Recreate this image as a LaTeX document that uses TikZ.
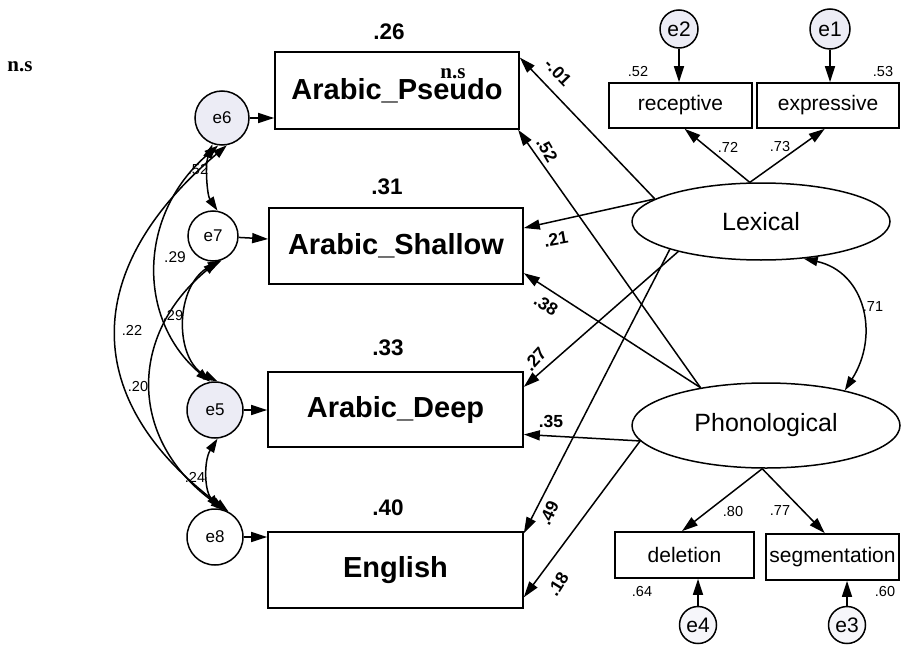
\documentclass[tikz,border=0pt]{standalone}
\usepackage{fontspec}
\setmainfont{Liberation Sans}
\newfontfamily\serifb{Liberation Serif}
\usetikzlibrary{arrows.meta,shapes.geometric}
\definecolor{errfill}{RGB}{236,236,245}
\definecolor{errfillb}{RGB}{246,246,250}
\begin{document}
\begin{tikzpicture}[x=1pt,y=-1pt,line width=1.5pt,
  >={Triangle[length=16pt,width=10pt]},
  obs/.style={draw,rectangle,line width=1.7pt,inner sep=0pt,font=\fontsize{29}{31}\selectfont\bfseries},
  ind/.style={draw,rectangle,line width=1.7pt,inner sep=0pt,font=\fontsize{21}{23}\selectfont},
  lat/.style={draw,ellipse,inner sep=0pt,font=\fontsize{25}{27}\selectfont},
  errs/.style={draw,circle,inner sep=0pt,font=\fontsize{17}{19}\selectfont},
  errt/.style={draw,circle,inner sep=0pt,font=\fontsize{21}{23}\selectfont},
  sm/.style={font=\fontsize{14.5}{16}\selectfont},
  cv/.style={font=\fontsize{15.5}{17}\selectfont},
  pl/.style={font=\fontsize{17.5}{19}\selectfont\bfseries},
  rsq/.style={font=\fontsize{22.5}{24}\selectfont\bfseries},
  nsl/.style={font=\serifb\fontsize{21}{23}\selectfont\bfseries},
  cov/.style={<->,>={Triangle[length=14pt,width=9pt]}}]
\useasboundingbox (0,0) rectangle (901,647);

% observed outcome boxes
\node[obs,minimum width=244pt,minimum height=77pt] (pseudo) at (397,90.5) {Arabic\_Pseudo};
\node[obs,minimum width=254pt,minimum height=76pt] (shallow) at (396,246) {Arabic\_Shallow};
\node[obs,minimum width=255pt,minimum height=75pt] (deep) at (395.5,409.5) {Arabic\_Deep};
\node[obs,minimum width=255pt,minimum height=76pt] (english) at (395.5,570) {English};

% latent variables
\node[lat,minimum width=258pt,minimum height=77pt] (lex) at (761,221.5) {Lexical};
\node[lat,minimum width=268pt,minimum height=85pt] (phon) at (766,425.5) {Phonological};

% indicators
\node[ind,minimum width=143pt,minimum height=45pt] (receptive) at (680.5,105.5) {receptive};
\node[ind,minimum width=142pt,minimum height=45pt] (expressive) at (828,105.5) {expressive};
\node[ind,minimum width=139pt,minimum height=46pt] (deletion) at (684.5,555) {deletion};
\node[ind,minimum width=133pt,minimum height=46pt] (segmentation) at (832.5,557) {segmentation};

% error terms
\node[errt,fill=errfill,minimum size=40pt] (e1) at (830,29) {e1};
\node[errt,fill=errfill,minimum size=38pt] (e2) at (679,29) {e2};
\node[errt,fill=errfillb,minimum size=37pt] (e3) at (847,625) {e3};
\node[errt,fill=errfillb,minimum size=37pt] (e4) at (698,625) {e4};
\node[errs,fill=errfill,minimum size=54pt] (e6) at (222,118) {e6};
\node[errs,fill=white,minimum size=50pt] (e7) at (213,236) {e7};
\node[errs,fill=errfill,minimum size=56pt] (e5) at (215,410) {e5};
\node[errs,fill=white,minimum size=56pt] (e8) at (215,537) {e8};

% error -> observed
\draw[->] (e6) -- (pseudo.west |- e6);
\draw[->] (e7) -- (shallow);
\draw[->] (e5) -- (deep.west |- e5);
\draw[->] (e8) -- (english.west |- e8);
\draw[->] (e2) -- (e2 |- receptive.north);
\draw[->] (e1) -- (e1 |- expressive.north);
\draw[->] (e4) -- (e4 |- deletion.south);
\draw[->] (e3) -- (e3 |- segmentation.south);

% measurement paths
\draw[->] (lex.106) -- (receptive.-80);
\draw[->] (lex.106) -- (expressive.262);
\draw[->] (phon.265) -- (deletion.96);
\draw[->] (phon.265) -- (segmentation.108);

% structural paths
\draw[->] (lex.168) -- (pseudo.15);
\draw[->] (phon.150) -- (pseudo.-18);
\draw[->] (lex.168) -- (shallow.8);
\draw[->] (phon.150) -- (shallow.-12);
\draw[->] (lex.200) -- (deep.10);
\draw[->] (phon.187) -- (deep.-11);
\draw[->] (lex.197) -- (english.16);
\draw[->] (phon.187) -- (english.-12);

% covariances
\draw[cov] (lex.319) .. controls (865,272) and (880,335) .. (phon.24);
\draw[cov] (e6.250) .. controls (205,165) and (207,195) .. (e7.80);
\draw[cov] (e6.262) .. controls (137,215) and (137,320) .. (e5.100);
\draw[cov] (e6.280) .. controls (80,270) and (80,400) .. (e8.62);
\draw[cov] (e7.290) .. controls (174,285) and (174,360) .. (e5.85);
\draw[cov] (e7.280) .. controls (128,335) and (128,440) .. (e8.70);
\draw[cov] (e5.275) .. controls (204,460) and (204,490) .. (e8.80);

% R-squared labels
\node[rsq] (r1) at (389,32) {.26};
\node[rsq] (r2) at (387,187) {.31};
\node[rsq] (r3) at (388,348) {.33};
\node[rsq] (r4) at (388,508) {.40};

% n.s marks
\node[nsl] (ns1) at (20,67) {n.s};
\node[nsl] (ns2) at (453,74) {n.s};

% path coefficients
\node[pl,rotate=-46] (p1) at (558,72) {-.01};
\node[pl,rotate=-60] (p2) at (547,150) {.52};
\node[pl,rotate=10] (p3) at (556,239) {.21};
\node[pl,rotate=-32] (p4) at (546,305) {.38};
\node[pl,rotate=48] (p5) at (535,359) {.27};
\node[pl] (p6) at (551,421) {.35};
\node[pl,rotate=65] (p7) at (549,513) {.49};
\node[pl,rotate=58] (p8) at (558,584) {.18};

% measurement and variance labels
\node[sm] (m1) at (638,72) {.52};
\node[sm] (m2) at (883,72) {.53};
\node[sm] (m3) at (728,147) {.72};
\node[sm] (m4) at (780,147) {.73};
\node[sm] (m5) at (873,307) {.71};
\node[sm] (m6) at (733,512) {.80};
\node[sm] (m7) at (780,511) {.77};
\node[sm] (m8) at (642,592) {.64};
\node[sm] (m9) at (885,592) {.60};

% covariance labels
\node[sm] (c1) at (198,170) {.52};
\node[cv] (c2) at (175,257) {.29};
\node[sm] (c3) at (173,316) {.29};
\node[sm] (c4) at (132,330) {.22};
\node[sm] (c5) at (138,387) {.20};
\node[sm] (c6) at (195,477) {.24};
\end{tikzpicture}
\end{document}
